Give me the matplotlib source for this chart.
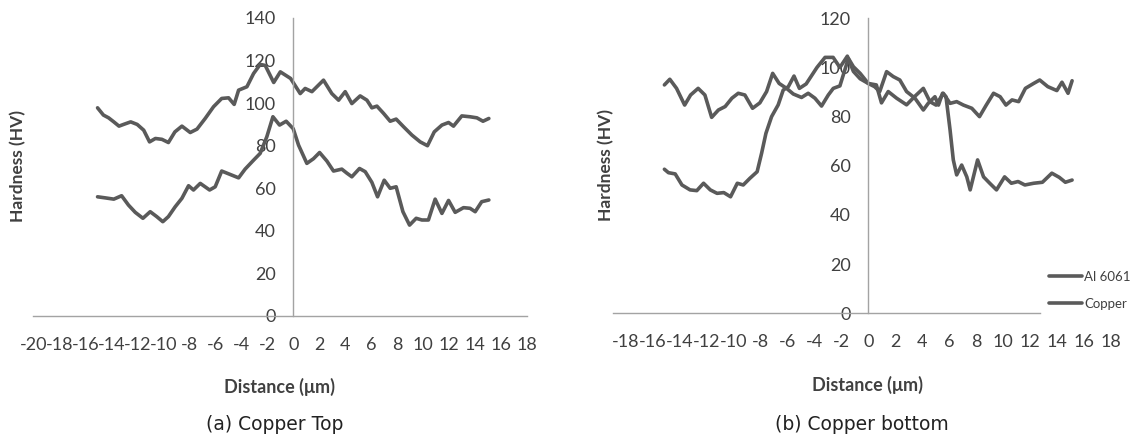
import matplotlib
matplotlib.use("Agg")
import matplotlib.pyplot as plt

plt.rcParams['axes.unicode_minus'] = False
plt.rcParams['font.family'] = ['Lato', 'DejaVu Sans']

# ---------------- data: (a) Copper Top ----------------
top_upper_x = [-15.05, -14.6, -14.2, -13.8, -13.4, -13.05, -12.5, -12.0, -11.5, -11.05,
               -10.6, -10.1, -9.6, -9.1, -8.56, -7.92, -7.4, -6.77, -6.13, -5.5,
               -4.97, -4.54, -4.2, -3.56, -3.05, -2.54, -2.15, -1.5, -0.99, -0.2,
               0.54, 0.92, 1.44, 2.33, 2.97, 3.49, 4.0, 4.51, 5.15, 5.67,
               6.05, 6.44, 6.95, 7.46, 7.92, 8.49, 9.13, 9.77, 10.33, 10.85,
               11.44, 11.95, 12.33, 12.97, 13.6, 14.13, 14.6, 15.05]
top_upper_y = [97.8, 94.4, 93.1, 91.2, 89.2, 90, 91.2, 90, 87.3, 81.8,
               83.4, 83, 81.5, 86.5, 89.2, 86.2, 87.8, 92.8, 98.3, 102.2,
               102.5, 99.4, 106.1, 107.7, 113.9, 118.2, 117.7, 109.7, 114.7, 111.6,
               104.5, 106.9, 105.4, 110.8, 104.5, 101.4, 105.4, 99.8, 103.4, 101.4,
               97.8, 98.6, 95.2, 91.5, 92.5, 88.9, 85, 81.8, 80, 86.5,
               89.7, 90.9, 89.2, 94, 93.6, 93.1, 91.5, 92.8]

top_lower_x = [-15.05, -14.46, -13.8, -13.2, -12.67, -12.15, -11.56, -11.0, -10.5, -10.03,
               -9.6, -9.08, -8.56, -8.05, -7.67, -7.15, -6.43, -6.0, -5.5, -4.85,
               -4.2, -3.7, -3.05, -2.54, -2.03, -1.56, -1.05, -0.54, 0.0, 0.41,
               1.05, 1.56, 2.03, 2.59, 3.1, 3.74, 4.13, 4.51, 5.1, 5.54,
               6.05, 6.49, 7.0, 7.46, 7.92, 8.44, 8.95, 9.46, 9.9, 10.4,
               10.92, 11.44, 11.95, 12.46, 13.1, 13.6, 14.0, 14.5, 15.05]
top_lower_y = [56, 55.5, 54.9, 56.5, 52.1, 48.7, 45.9, 49, 46.7, 44.3,
               46.7, 51.3, 55.3, 61.2, 59.2, 62.3, 59.2, 60.7, 68.1, 66.5,
               64.9, 69, 73.2, 76.4, 84.2, 93.6, 89.7, 91.5, 88, 80.3,
               71.7, 73.9, 76.8, 72.8, 68.1, 69, 67.1, 65.4, 69.3, 67.8,
               62.8, 56, 63.8, 60, 60.7, 49, 42.7, 45.9, 45.1, 45.1,
               54.9, 48.2, 54.3, 48.7, 50.9, 50.6, 49, 53.7, 54.5]

# ---------------- data: (b) Copper bottom ----------------
bot_al_x = [-15.1, -14.7, -14.2, -13.6, -13.16, -12.6, -12.1, -11.6, -11.1, -10.6,
            -10.1, -9.63, -9.14, -8.57, -8.03, -7.53, -7.08, -6.6, -6.05, -5.55,
            -4.94, -4.45, -3.95, -3.46, -2.96, -2.59, -2.1, -1.47, -1.1, -0.6,
            0.0, 0.6, 0.98, 1.48, 2.1, 2.84, 3.46, 4.08, 4.57, 5.02,
            5.56, 6.06, 6.55, 7.05, 7.67, 8.24, 8.73, 9.28, 9.77, 10.2,
            10.65, 11.14, 11.64, 12.25, 12.7, 13.3, 13.97, 14.35, 14.8, 15.1]
bot_al_y = [92.9, 95.2, 91.5, 84.7, 88.8, 91.5, 88.8, 79.7, 82.7, 84.1,
            87.5, 89.5, 88.8, 83.4, 85.6, 90.2, 97.6, 93.5, 91.5, 89.2,
            87.8, 89.5, 87.5, 84.3, 88.8, 91.5, 92.5, 103.7, 100.3, 97.6,
            93.5, 92.9, 85.6, 90.2, 87.5, 84.8, 88.3, 91.5, 86.1, 84.7,
            89.5, 85.4, 86.1, 84.7, 83.4, 80, 84.6, 89.5, 88.1, 84.7,
            86.8, 86.1, 91.5, 93.5, 94.9, 92.2, 90.6, 94, 89.5, 94.6]

bot_cu_x = [-15.1, -14.8, -14.3, -13.8, -13.2, -12.7, -12.2, -11.7, -11.2, -10.7,
            -10.2, -9.7, -9.26, -8.77, -8.23, -7.9, -7.58, -7.16, -6.67, -6.3,
            -5.92, -5.5, -5.1, -4.6, -3.8, -3.2, -2.6, -2.1, -1.55, -1.1,
            -0.6, 0.0, 0.47, 0.85, 1.36, 1.85, 2.34, 2.84, 3.46, 4.08,
            4.44, 4.94, 5.2, 5.5, 5.76, 6.06, 6.3, 6.55, 6.92, 7.3,
            7.55, 8.1, 8.54, 9.0, 9.5, 10.1, 10.6, 11.1, 11.6, 12.25,
            12.9, 13.6, 14.15, 14.6, 15.1]
bot_cu_y = [58.6, 57.2, 56.7, 52.2, 50.2, 49.9, 52.9, 50.2, 48.8, 49.1,
            47.4, 52.9, 52.2, 54.9, 57.6, 65.1, 73.2, 80, 84.8, 90.8,
            92.2, 96.5, 91.5, 93.3, 100, 104.1, 104.1, 100, 104.6, 98.4,
            95.4, 93.5, 92.2, 90.2, 98.3, 96.3, 94.9, 90.2, 87.5, 82.7,
            85.4, 88.1, 84.7, 89.5, 88.1, 74.6, 62.4, 56.3, 60.3, 55.5,
            50.2, 62.4, 55.5, 52.9, 50.2, 55.5, 52.9, 53.6, 52.2, 52.9,
            53.3, 57, 55.3, 53.3, 54.2]

series_labels = ["Al 6061", "Copper"]
xticks_top = list(range(-20, 19, 2))
xticks_bot = list(range(-18, 19, 2))
yticks_top = list(range(0, 141, 20))
yticks_bot = list(range(0, 121, 20))

LINE = '#5a5a5a'
AXC = '#a3a3a3'
TXT = '#404040'
W, H = 1135, 443

fig = plt.figure(figsize=(W / 100, H / 100), dpi=100)

def style(ax, xticks, yticks):
    for s in ('top', 'right'):
        ax.spines[s].set_visible(False)
    ax.spines['left'].set_position(('data', 0))
    for s in ('left', 'bottom'):
        ax.spines[s].set_color(AXC)
        ax.spines[s].set_linewidth(1.0)
    ax.set_xticks(xticks)
    ax.set_xticklabels([str(v) for v in xticks])
    ax.set_yticks(yticks)
    ax.set_yticklabels([str(v) for v in yticks])
    ax.tick_params(axis='x', length=0, pad=15, labelsize=13, colors=TXT)
    ax.tick_params(axis='y', length=0, pad=12.5, labelsize=13, colors=TXT)
    ax.patch.set_visible(False)

LW = 2.6

# left panel
axL = fig.add_axes([33.2 / W, (H - 316) / H, 494 / W, 298 / H])
axL.plot(top_upper_x, top_upper_y, color=LINE, lw=LW, solid_joinstyle='round', solid_capstyle='round')
axL.plot(top_lower_x, top_lower_y, color=LINE, lw=LW, solid_joinstyle='round', solid_capstyle='round')
axL.set_xlim(-20, 18)
axL.set_ylim(0, 140)
style(axL, xticks_top, yticks_top)

# right panel
x0R = 613.1
pxu = 13.5
axR = fig.add_axes([x0R / W, (H - 313.3) / H, 37.5 * pxu / W, 295 / H])
lA, = axR.plot(bot_al_x, bot_al_y, color=LINE, lw=LW, solid_joinstyle='round',
               solid_capstyle='round', label=series_labels[0])
lB, = axR.plot(bot_cu_x, bot_cu_y, color=LINE, lw=LW, solid_joinstyle='round',
               solid_capstyle='round', label=series_labels[1])
axR.set_xlim(-18.9, 18.6)
axR.set_ylim(0, 120)
style(axR, xticks_bot, yticks_bot)
axR.spines['bottom'].set_bounds(-18.9, 12.7)

leg = fig.legend(handles=[lA, lB], loc='center left', bbox_to_anchor=(1049 / W, (H - 290.5) / H),
                 frameon=False, fontsize=9.5, handlelength=2.5, handletextpad=0.15,
                 labelspacing=1.15, borderpad=0, borderaxespad=0)
for t in leg.get_texts():
    t.set_color(TXT)

# axis titles and captions
fig.text(18 / W, (H - 166) / H, "Hardness (HV)", rotation=90, ha='center', va='center',
         fontsize=12.5, fontweight='bold', color=TXT)
fig.text(606 / W, (H - 165) / H, "Hardness (HV)", rotation=90, ha='center', va='center',
         fontsize=12.5, fontweight='bold', color=TXT)
fig.text(279 / W, (H - 387) / H, "Distance (μm)", ha='center', va='center',
         fontsize=13, fontweight='bold', color=TXT)
fig.text(867 / W, (H - 385) / H, "Distance (μm)", ha='center', va='center',
         fontsize=13, fontweight='bold', color=TXT)
fig.text(275 / W, (H - 424) / H, "(a) Copper Top", ha='center', va='center',
         fontsize=13.5, color='#222222', family=['DejaVu Sans'])
fig.text(862 / W, (H - 424) / H, "(b) Copper bottom", ha='center', va='center',
         fontsize=13.5, color='#222222', family=['DejaVu Sans'])

fig.savefig("out.png", dpi=100, facecolor='white')
